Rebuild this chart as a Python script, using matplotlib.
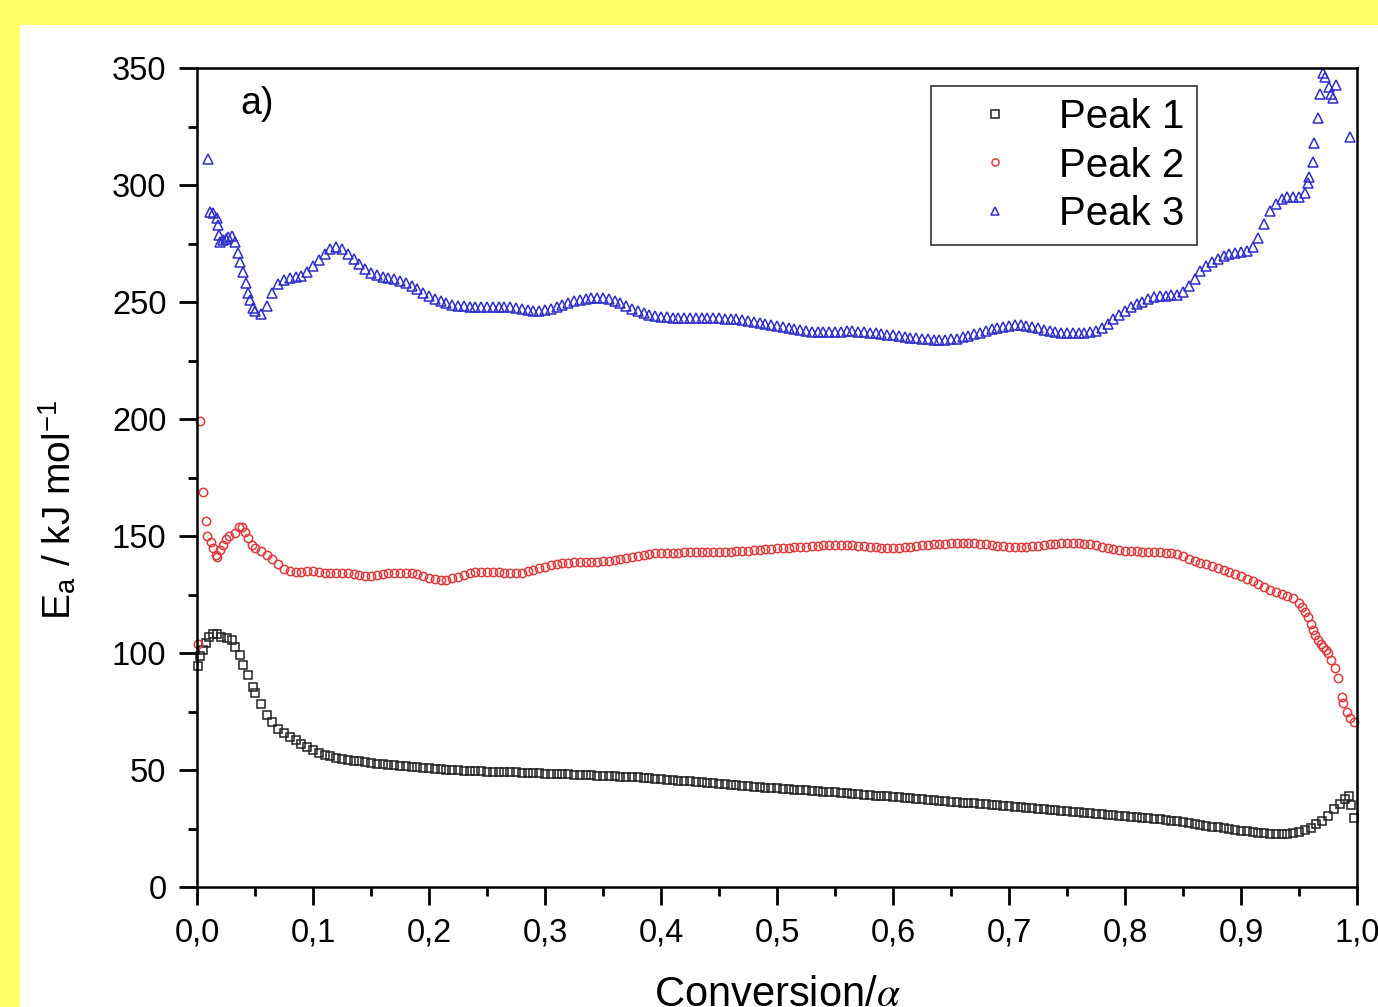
import numpy as np
import matplotlib
matplotlib.use("Agg")
import matplotlib.pyplot as plt
from matplotlib.ticker import MultipleLocator, FuncFormatter

plt.rcParams['font.family'] = ['Liberation Sans', 'DejaVu Sans']
plt.rcParams['mathtext.fontset'] = 'stix'

# Peak 1: irregular points near the start, then a 0.005 grid from 0.05, then the end
p1_head_x = [0.001, 0.003, 0.005, 0.008, 0.010, 0.014, 0.017, 0.021, 0.026, 0.030,
             0.033, 0.037, 0.040, 0.044, 0.048]
p1_head_y = [94.4, 98.7, 101.3, 104.3, 106.8, 108.1, 108.1, 106.8, 106.4, 105.6,
             102.6, 99.1, 94.9, 90.6, 85.5]
p1_body = [83.0, 78.3, 73.6, 70.3, 67.7, 65.8, 64.3, 62.7, 61.0, 59.7,
           58.4, 57.4, 56.6, 55.9, 55.3, 54.8, 54.4, 54.0, 53.7, 53.3,
           53.0, 52.7, 52.4, 52.2, 52.0, 51.7, 51.5, 51.3, 51.1, 50.9,
           50.7, 50.5, 50.3, 50.1, 50.0, 49.8, 49.7, 49.6, 49.5, 49.4,
           49.3, 49.3, 49.2, 49.1, 49.0, 49.0, 48.9, 48.8, 48.7, 48.6,
           48.5, 48.4, 48.3, 48.2, 48.1, 48.0, 47.9, 47.8, 47.7, 47.6,
           47.5, 47.4, 47.3, 47.2, 47.1, 47.0, 46.9, 46.7, 46.5, 46.3,
           46.1, 45.9, 45.7, 45.5, 45.3, 45.1, 44.9, 44.7, 44.5, 44.3,
           44.1, 43.9, 43.7, 43.5, 43.3, 43.1, 42.9, 42.7, 42.5, 42.3,
           42.1, 42.0, 41.8, 41.6, 41.4, 41.3, 41.1, 41.0, 40.8, 40.7,
           40.5, 40.3, 40.1, 39.9, 39.7, 39.5, 39.3, 39.1, 38.9, 38.7,
           38.5, 38.3, 38.1, 37.9, 37.7, 37.5, 37.3, 37.1, 36.9, 36.7,
           36.5, 36.3, 36.1, 35.9, 35.7, 35.5, 35.3, 35.1, 34.9, 34.7,
           34.5, 34.3, 34.1, 33.9, 33.7, 33.5, 33.3, 33.0, 32.8, 32.6,
           32.4, 32.1, 31.9, 31.7, 31.5, 31.3, 31.0, 30.8, 30.6, 30.4,
           30.2, 30.0, 29.8, 29.6, 29.4, 29.2, 28.9, 28.6, 28.3, 28.0,
           27.7, 27.3, 26.9, 26.5, 26.1, 25.8, 25.5, 25.1, 24.8, 24.4,
           24.1, 23.8, 23.5, 23.2, 23.0, 22.8, 22.6, 22.5, 22.6, 23.0,
           23.6, 24.3, 25.4, 26.8, 28.3, 30.5, 33.2, 35.6, 37.8]
p1_tail_x = [0.993, 0.995, 0.997]
p1_tail_y = [38.8, 35.0, 29.5]

# Peak 2
p2_head_x = [0.001, 0.003, 0.005, 0.008, 0.009, 0.012, 0.014, 0.016, 0.017, 0.020,
             0.022, 0.025, 0.028, 0.033, 0.036, 0.039, 0.041, 0.044, 0.047]
p2_head_y = [104.0, 199.0, 168.8, 156.4, 150.0, 147.4, 144.9, 141.9, 141.0, 144.0,
             146.2, 148.7, 150.0, 151.3, 153.8, 153.8, 151.7, 149.0, 146.2]
p2_body = [145.0, 143.5, 142.0, 140.3, 138.2, 136.0, 135.2, 134.7, 134.8, 135.0,
           135.0, 134.6, 134.2, 134.2, 134.2, 134.3, 134.2, 133.8, 133.4, 133.0,
           132.9, 133.2, 133.7, 134.0, 134.2, 134.2, 134.1, 134.0, 133.7, 133.0,
           132.2, 131.5, 131.2, 131.4, 132.0, 132.6, 133.4, 134.2, 134.5, 134.7,
           134.8, 134.8, 134.5, 134.3, 134.2, 134.2, 134.4, 134.9, 135.5, 136.2,
           136.8, 137.4, 138.0, 138.4, 138.6, 138.7, 138.8, 138.9, 139.0, 139.1,
           139.2, 139.4, 139.7, 140.1, 140.6, 141.1, 141.6, 142.0, 142.4, 142.6,
           142.8, 142.9, 142.9, 142.9, 143.0, 143.0, 143.0, 143.0, 143.1, 143.1,
           143.2, 143.2, 143.3, 143.4, 143.6, 143.8, 144.0, 144.2, 144.4, 144.6,
           144.7, 144.8, 144.9, 145.1, 145.3, 145.5, 145.7, 145.9, 146.0, 146.1,
           146.2, 146.2, 146.1, 146.0, 145.8, 145.6, 145.4, 145.2, 145.0, 144.9,
           144.9, 145.0, 145.2, 145.5, 145.8, 146.1, 146.3, 146.5, 146.6, 146.7,
           146.8, 146.9, 147.0, 147.0, 146.9, 146.7, 146.5, 146.2, 145.9, 145.6,
           145.4, 145.3, 145.3, 145.4, 145.6, 145.8, 146.1, 146.4, 146.7, 146.9,
           147.0, 147.0, 146.9, 146.7, 146.4, 146.0, 145.5, 145.0, 144.5, 144.1,
           143.8, 143.6, 143.4, 143.3, 143.2, 143.1, 143.0, 142.9, 142.8, 142.4,
           141.4, 140.0, 139.2, 138.5, 137.9, 137.2, 136.2, 135.3, 134.7, 133.8,
           132.8, 131.8, 130.8, 129.6, 128.3, 127.1, 126.1, 125.3, 124.5, 123.5,
           121.5]
p2_tail_x = [0.953, 0.955, 0.958, 0.960, 0.962, 0.964, 0.966, 0.969, 0.971, 0.973,
             0.975, 0.978, 0.981, 0.984, 0.987, 0.988, 0.991, 0.994, 0.997]
p2_tail_y = [119.7, 117.5, 115.4, 112.5, 109.8, 107.5, 105.6, 104.0, 102.6, 101.3,
             100.0, 97.0, 93.6, 89.3, 81.2, 78.6, 74.8, 72.2, 70.5]

# Peak 3
p3_head_x = [0.0095, 0.011, 0.014, 0.017, 0.018, 0.019, 0.020, 0.022, 0.025, 0.027,
             0.030, 0.033, 0.035, 0.037, 0.040, 0.042, 0.044, 0.046, 0.048]
p3_head_y = [311.0, 288.5, 288.0, 286.0, 283.0, 278.6, 275.6, 276.5, 277.0, 277.8,
             278.0, 275.6, 271.0, 267.0, 263.0, 258.0, 254.0, 251.0, 247.5]
p3_body = [246.0, 245.0, 248.2, 254.0, 257.5, 259.3, 260.2, 260.8, 261.3, 262.8,
           265.2, 267.8, 270.5, 272.8, 273.6, 272.5, 270.5, 268.5, 266.3, 264.3,
           262.6, 261.5, 260.7, 260.2, 259.7, 258.9, 258.0, 256.8, 255.4, 254.0,
           252.6, 251.4, 250.4, 249.5, 248.8, 248.4, 248.1, 248.0, 247.9, 247.8,
           247.8, 247.9, 248.0, 248.0, 247.8, 247.4, 246.9, 246.4, 246.2, 246.3,
           246.6, 247.2, 248.0, 248.8, 249.6, 250.3, 250.9, 251.4, 251.7, 251.8,
           251.7, 251.3, 250.5, 249.4, 248.2, 247.0, 246.0, 245.1, 244.4, 243.9,
           243.6, 243.4, 243.2, 243.1, 243.0, 243.0, 243.0, 243.0, 243.0, 243.0,
           243.0, 242.9, 242.8, 242.6, 242.3, 241.9, 241.5, 241.0, 240.6, 240.2,
           239.8, 239.4, 239.0, 238.5, 238.0, 237.6, 237.3, 237.1, 237.0, 237.0,
           237.1, 237.3, 237.4, 237.4, 237.3, 237.1, 236.9, 236.6, 236.3, 236.0,
           235.7, 235.4, 235.1, 234.8, 234.5, 234.3, 234.1, 233.9, 233.8, 233.8,
           234.0, 234.4, 234.9, 235.5, 236.2, 236.9, 237.6, 238.3, 238.9, 239.4,
           239.7, 240.0, 240.0, 239.8, 239.4, 238.8, 238.2, 237.6, 237.2, 236.9,
           236.7, 236.6, 236.6, 236.7, 237.0, 237.6, 238.8, 240.6, 242.6, 244.6,
           246.3, 247.7, 249.0, 250.2, 251.2, 252.0, 252.5, 252.7, 252.8, 253.2,
           254.4, 256.8, 260.0, 263.2, 265.5, 267.2, 268.5, 269.5, 270.3, 270.9,
           271.4, 272.0, 273.5, 277.5, 283.5, 289.0, 292.0, 294.0, 294.8, 295.0,
           295.0, 296.5]
p3_tail_x = [0.958, 0.959, 0.962, 0.963, 0.966, 0.968, 0.971, 0.972, 0.976, 0.978,
             0.979, 0.982, 0.994]
p3_tail_y = [301.0, 303.4, 310.0, 318.0, 328.6, 339.0, 348.0, 346.0, 342.0, 339.0,
             337.0, 342.7, 320.5]

labels = ['Peak 1', 'Peak 2', 'Peak 3']


def series(head_x, head_y, body, tail_x, tail_y):
    grid = np.round(0.05 + 0.005 * np.arange(len(body)), 4)
    x = np.concatenate([head_x, grid, tail_x])
    y = np.concatenate([head_y, body, tail_y])
    return x, y


fig = plt.figure(figsize=(13.78, 10.07), dpi=100)
fig.patch.set_facecolor('#ffff66')
# white panel inside the yellow border (drawn below the axes)
panel = plt.Rectangle((20 / 1378, 0), 1, 1 - 25 / 1007,
                      transform=fig.transFigure, facecolor='white',
                      edgecolor='none', zorder=-10)
fig.add_artist(panel)

ax = fig.add_axes([197 / 1378, 1 - 887 / 1007, 1160 / 1378, 819 / 1007])
ax.set_facecolor('white')

styles = [dict(marker='s', color='#222222', ms=6.0),
          dict(marker='o', color='#dd3b3b', ms=6.0),
          dict(marker='^', color='#2e2ec8', ms=6.8)]
data = [series(p1_head_x, p1_head_y, p1_body, p1_tail_x, p1_tail_y),
        series(p2_head_x, p2_head_y, p2_body, p2_tail_x, p2_tail_y),
        series(p3_head_x, p3_head_y, p3_body, p3_tail_x, p3_tail_y)]

for (x, y), st, lab in zip(data, styles, labels):
    ax.plot(x, y, linestyle='none', marker=st['marker'], markersize=st['ms'],
            markerfacecolor='none', markeredgecolor=st['color'],
            markeredgewidth=1.1, label=lab, clip_on=False)

ax.set_xlim(0, 1)
ax.set_ylim(0, 350)
ax.xaxis.set_major_locator(MultipleLocator(0.1))
ax.xaxis.set_minor_locator(MultipleLocator(0.05))
ax.yaxis.set_major_locator(MultipleLocator(50))
ax.yaxis.set_minor_locator(MultipleLocator(25))
ax.xaxis.set_major_formatter(FuncFormatter(lambda v, p: f"{v:.1f}".replace('.', ',')))
ax.yaxis.set_major_formatter(FuncFormatter(lambda v, p: f"{v:.0f}"))

ax.tick_params(which='both', direction='out', top=False, right=False,
               colors='black', width=2)
ax.tick_params(which='major', length=13, labelsize=23.5, pad=9)
ax.tick_params(which='minor', length=6.5)
for sp in ax.spines.values():
    sp.set_linewidth(1.8)

ax.set_xlabel(r'Conversion/$\alpha$', fontsize=30)
ax.xaxis.set_label_coords(0.5, -0.107)
ax.set_ylabel(r'E$_\mathregular{a}$ / kJ mol$^\mathregular{-1}$', fontsize=28)
ax.yaxis.set_label_coords(-0.102, 0.46)

ax.text(0.037, 0.978, 'a)', transform=ax.transAxes, fontsize=27,
        ha='left', va='top')

leg = ax.legend(loc='upper right', bbox_to_anchor=(0.862, 0.978),
                fontsize=29, frameon=True, fancybox=False, framealpha=1,
                edgecolor='#333333', borderpad=0.3, handlelength=2.6,
                handletextpad=0.3, labelspacing=0.26, borderaxespad=0,
                markerscale=0.85)
leg.get_frame().set_linewidth(1.2)

fig.savefig('out.png', dpi=100, facecolor=fig.get_facecolor())
